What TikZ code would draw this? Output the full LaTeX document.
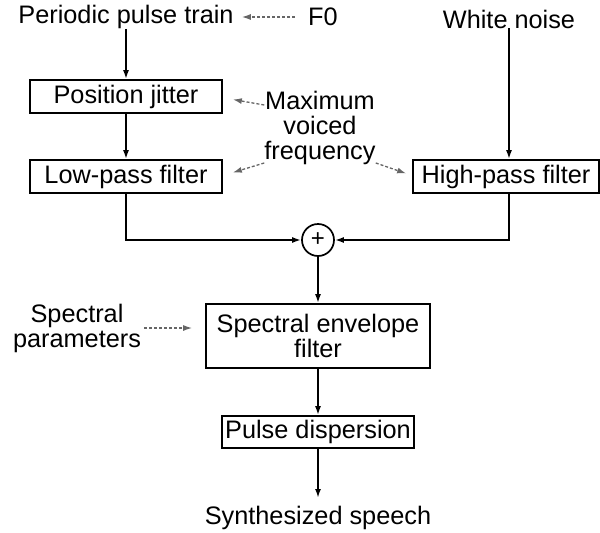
\documentclass[tikz,border=0pt]{standalone}
\usepackage{fontspec}
\setmainfont{Liberation Sans}
\usetikzlibrary{arrows.meta,calc}
\begin{document}
\begin{tikzpicture}[x=1pt,y=-1pt,
  every node/.style={font=\fontsize{25.3}{25}\selectfont, inner sep=0pt},
  box/.style={draw, line width=1.7pt, minimum height=33pt},
  flow/.style={line width=1.8pt, -{Latex[length=9pt,width=6pt]}},
  ctrl/.style={draw=black!60, line width=1.3pt, dash pattern=on 3pt off 2pt,
               -{Latex[length=9pt,width=6pt]}},
  lbl/.style={align=center}]
\useasboundingbox (0,0) rectangle (600,533);

% sources and processing blocks
\node (pulse) at (126,17) {Periodic pulse train};
\node (f0) at (323,17) {F0};
\node (noise) at (509,19) {White noise};
\node[box, minimum width=192pt] (jitter) at (126,96.5) {Position jitter};
\node[box, minimum width=192pt] (lowpass) at (126,176.5) {Low-pass filter};
\node[box, minimum width=186pt] (highpass) at (506,176.5) {High-pass filter};
\node[lbl] (mvf) at (320,128) {Maximum\\voiced\\frequency};
\node[draw, circle, line width=1.7pt, minimum size=32pt,
      font=\fontsize{24}{24}\selectfont] (sum) at (318,240) {+};
\node[box, minimum width=224pt, minimum height=64pt, align=center] (env) at (318,336)
  {Spectral envelope\\filter};
\node[lbl] (spec) at (77,328) {Spectral\\parameters};
\node[box, minimum width=192pt, minimum height=32pt] (disp) at (318,432) {Pulse dispersion};
\node (speech) at (318,518) {Synthesized speech};

% signal path
\draw[flow] (pulse) -- (jitter);
\draw[flow] (jitter) -- (lowpass);
\draw[flow] (noise.south) -- (noise.south |- highpass.north);
\draw[flow] (lowpass.south) |- (sum.west);
\draw[flow] (highpass.south -| noise) |- (sum.east);
\draw[flow] (sum) -- (env);
\draw[flow] (env) -- (disp);
\draw[flow, shorten >=8pt] (disp) -- (speech);

% control parameters
\draw[ctrl, shorten <=13pt, shorten >=8pt] (f0) -- (pulse);
\draw[ctrl] ($(mvf.north west)+(0,14)$) -- ($(jitter.east)+(10,3)$);
\draw[ctrl] ($(mvf.south west)+(0,-2)$) -- ($(lowpass.east)+(10,-4)$);
\draw[ctrl] ($(mvf.south east)+(0,-2)$) -- ($(highpass.west)+(-6,-3)$);
\draw[ctrl] ($(spec.east)+(3,0)$) -- ($(env.west)+(-13,-8)$);
\end{tikzpicture}
\end{document}
